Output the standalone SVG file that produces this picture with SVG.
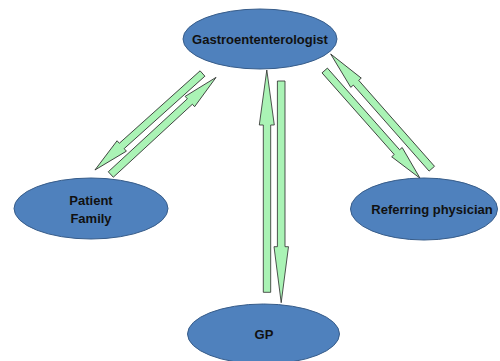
<svg xmlns="http://www.w3.org/2000/svg" width="500" height="361" viewBox="0 0 500 361">
<style>
.node ellipse{fill:#4f81bd;stroke:#385d8a;stroke-width:1}
.node text{font-family:"Liberation Sans",Arial,sans-serif;font-weight:bold;font-size:13px;fill:#111;text-anchor:middle}
.arr{fill:#aaf3b5;stroke:#2a2a2a;stroke-width:0.8;stroke-linejoin:miter}
</style>
<rect width="500" height="361" fill="#fff"/>
<g id="connectors">
<polygon class="arr" transform="translate(202.5,73.5) rotate(138.1)" points="0,-3.6 108.5,-3.6 108.5,-7 144.5,0 108.5,7 108.5,3.6 0,3.6"/>
<polygon class="arr" transform="translate(110.8,174.5) rotate(-42.7)" points="0,-3.7 107.6,-3.7 107.6,-7 143.2,0 107.6,7 107.6,3.7 0,3.7"/>
<polygon class="arr" transform="translate(431.8,168.7) rotate(-131.4)" points="0,-3.6 114.6,-3.6 114.6,-7 152.9,0 114.6,7 114.6,3.6 0,3.6"/>
<polygon class="arr" transform="translate(324.7,70.5) rotate(48.5)" points="0,-3.6 109,-3.6 109,-7 143.9,0 109,7 109,3.6 0,3.6"/>
<polygon class="arr" points="263.3,292.3 270.7,292.3 270.7,125 274.3,125 266.8,70 259.3,125 263.3,125"/>
<polygon class="arr" points="277.4,81 285,81 285,246.7 288.5,246.7 281.2,302.7 274,246.7 277.4,246.7"/>
</g>
<g id="gastro" class="node">
<ellipse cx="260" cy="39" rx="77" ry="30"/>
<text x="260" y="43.5">Gastroententerologist</text>
</g>
<g id="patient" class="node">
<ellipse cx="91" cy="208.5" rx="77" ry="30.5"/>
<text x="91" y="204.5">Patient</text>
<text x="91" y="223">Family</text>
</g>
<g id="referring" class="node">
<ellipse cx="424" cy="209" rx="73.5" ry="31"/>
<text x="432" y="214">Referring physician</text>
</g>
<g id="gp" class="node">
<ellipse cx="263.5" cy="334" rx="76" ry="30"/>
<text x="264" y="339">GP</text>
</g>
</svg>
